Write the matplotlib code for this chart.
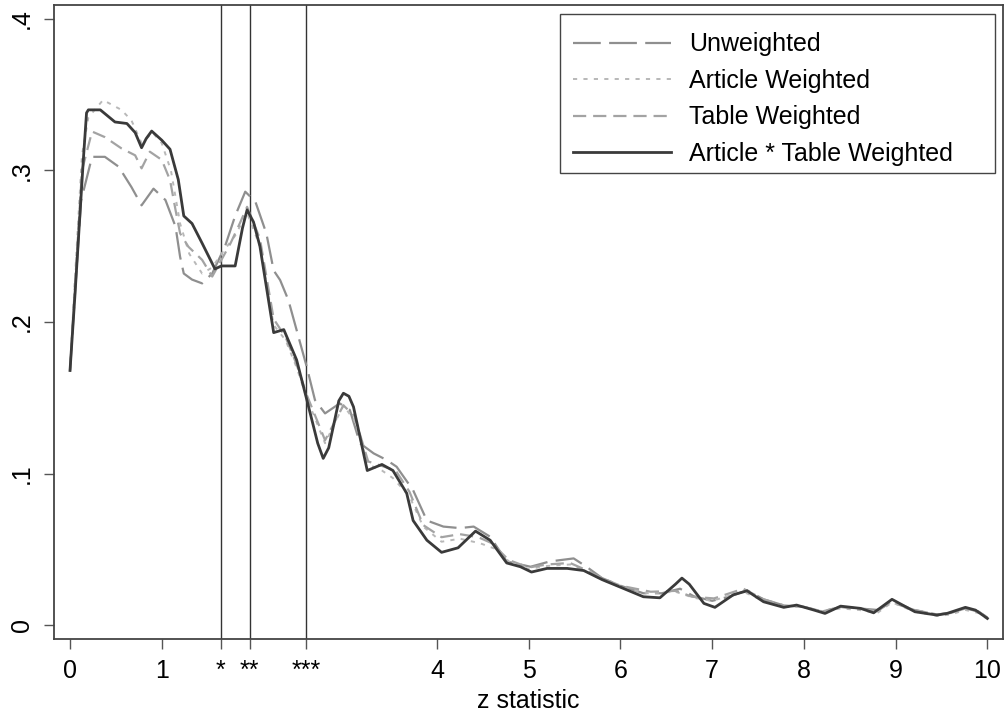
import numpy as np
from matplotlib import pyplot as plt
from matplotlib.patches import Rectangle

plt.rcParams['font.family'] = ['Liberation Sans', 'DejaVu Sans']
plt.rcParams['lines.scale_dashes'] = False

# z statistic density curves
x_unw = [0, 0.05, 0.12, 0.24, 0.38, 0.53, 0.67, 0.78, 0.91, 1.04, 1.15, 1.2, 1.24, 1.33, 1.44, 1.55, 1.69, 1.8, 1.91,
         2.02, 2.14, 2.22, 2.29, 2.38, 2.47, 2.58, 2.67, 2.78, 2.94, 3.05, 3.16, 3.31, 3.45, 3.56, 3.74, 3.89, 4.07,
         4.25, 4.40, 4.58, 4.76, 5.02, 5.23, 5.49, 5.63, 5.8, 6.0, 6.25, 6.45, 6.65, 6.8, 7.0, 7.2, 7.38, 7.56, 7.78,
         8.0, 8.2, 8.4, 8.6, 8.8, 8.96, 9.2, 9.45, 9.6, 9.76, 9.9, 10.0]
y_unw = [0.168, 0.215, 0.28, 0.309, 0.309, 0.3025, 0.289, 0.277, 0.288, 0.2805, 0.263, 0.243, 0.232, 0.228, 0.2255,
         0.232, 0.25, 0.27, 0.286, 0.2795, 0.2585, 0.234, 0.2277, 0.2145, 0.1947, 0.1705, 0.1485, 0.1397, 0.1463, 0.142,
         0.12, 0.1133, 0.109, 0.1045, 0.089, 0.069, 0.065, 0.064, 0.065, 0.0583, 0.042, 0.0385, 0.042, 0.044, 0.0385,
         0.031, 0.026, 0.021, 0.021, 0.024, 0.019, 0.016, 0.019, 0.023, 0.017, 0.013, 0.012, 0.009, 0.012, 0.011, 0.010,
         0.015, 0.010, 0.007, 0.008, 0.011, 0.009, 0.005]

x_art = [0, 0.05, 0.13, 0.2, 0.36, 0.56, 0.67, 0.78, 0.9, 1.0, 1.1, 1.2, 1.3, 1.44, 1.55, 1.65, 1.8, 1.93, 2.07, 2.22,
         2.35, 2.47, 2.58, 2.78, 2.98, 3.1, 3.25, 3.4, 3.52, 3.7, 3.85, 4.05, 4.25, 4.47, 4.65, 4.8, 5.0, 5.2, 5.45,
         5.6, 5.8, 6.0, 6.3, 6.6, 6.8, 7.0, 7.34, 7.56, 7.78, 8.0, 8.2, 8.4, 8.6, 8.8, 8.96, 9.2, 9.45, 9.6, 9.76, 9.9,
         10.0]
y_art = [0.168, 0.225, 0.31, 0.335, 0.3465, 0.340, 0.333, 0.318, 0.325, 0.318, 0.30, 0.265, 0.245, 0.232, 0.236, 0.245,
         0.257, 0.272, 0.25, 0.198, 0.188, 0.17, 0.15, 0.12, 0.145, 0.135, 0.106, 0.102, 0.097, 0.085, 0.065, 0.055,
         0.057, 0.054, 0.05, 0.041, 0.037, 0.039, 0.040, 0.036, 0.030, 0.025, 0.021, 0.022, 0.018, 0.016, 0.022, 0.016,
         0.012, 0.012, 0.009, 0.011, 0.010, 0.008, 0.015, 0.009, 0.006, 0.007, 0.010, 0.008, 0.004]

x_tab = [0, 0.05, 0.13, 0.24, 0.38, 0.56, 0.71, 0.78, 0.87, 1.0, 1.09, 1.15, 1.2, 1.29, 1.44, 1.55, 1.65, 1.75, 1.85,
         1.93, 2.07, 2.22, 2.35, 2.47, 2.58, 2.78, 2.98, 3.1, 3.25, 3.4, 3.55, 3.7, 3.85, 4.05, 4.25, 4.45, 4.6, 4.78,
         5.0, 5.2, 5.45, 5.6, 5.8, 6.0, 6.33, 6.61, 6.78, 7.02, 7.34, 7.56, 7.78, 8.0, 8.2, 8.4, 8.6, 8.8, 8.96, 9.2,
         9.45, 9.6, 9.76, 9.9, 10.0]
y_tab = [0.168, 0.22, 0.30, 0.3257, 0.322, 0.3146, 0.310, 0.3014, 0.3124, 0.307, 0.2937, 0.274, 0.2585, 0.2497, 0.241,
         0.23, 0.241, 0.252, 0.265, 0.276, 0.255, 0.202, 0.19, 0.172, 0.152, 0.122, 0.145, 0.138, 0.108, 0.105, 0.102,
         0.088, 0.066, 0.058, 0.060, 0.058, 0.054, 0.043, 0.038, 0.040, 0.041, 0.037, 0.031, 0.026, 0.022, 0.0226,
         0.0187, 0.0176, 0.024, 0.017, 0.013, 0.012, 0.009, 0.012, 0.011, 0.009, 0.016, 0.010, 0.007, 0.008, 0.011,
         0.009, 0.005]

x_at = [0, 0.055, 0.145, 0.18, 0.2, 0.33, 0.49, 0.62, 0.71, 0.78, 0.83, 0.89, 1.0, 1.09, 1.18, 1.24, 1.33, 1.44, 1.58,
        1.65, 1.8, 1.88, 1.93, 2.0, 2.07, 2.22, 2.33, 2.47, 2.58, 2.7, 2.76, 2.82, 2.87, 2.93, 2.98, 3.04, 3.09, 3.24,
        3.40, 3.52, 3.67, 3.74, 3.89, 4.05, 4.23, 4.42, 4.58, 4.76, 4.91, 5.03, 5.2, 5.42, 5.6, 5.8, 6.0, 6.25, 6.43,
        6.6, 6.67, 6.75, 6.91, 7.03, 7.23, 7.38, 7.56, 7.78, 7.92, 8.11, 8.23, 8.4, 8.62, 8.76, 8.96, 9.21, 9.45, 9.56,
        9.76, 9.87, 10.0]
y_at = [0.168, 0.219, 0.307, 0.338, 0.340, 0.340, 0.332, 0.331, 0.325, 0.315, 0.321, 0.326, 0.320, 0.314, 0.294, 0.270,
        0.265, 0.252, 0.235, 0.237, 0.237, 0.262, 0.274, 0.266, 0.250, 0.193, 0.195, 0.175, 0.149, 0.120, 0.110, 0.117,
        0.131, 0.148, 0.153, 0.151, 0.144, 0.102, 0.106, 0.102, 0.087, 0.069, 0.056, 0.048, 0.051, 0.062, 0.056, 0.041,
        0.0385, 0.035, 0.0374, 0.0374, 0.036, 0.030, 0.025, 0.0187, 0.018, 0.027, 0.031, 0.027, 0.0143, 0.0117, 0.020,
        0.0226, 0.0154, 0.0117, 0.0132, 0.0099, 0.0077, 0.0125, 0.011, 0.0081, 0.017, 0.0088, 0.0066, 0.0077, 0.0117,
        0.0099, 0.0044]

crit = [1.645, 1.96, 2.576]
xticks = [0, 1] + crit + [4, 5, 6, 7, 8, 9, 10]
xlabels = ['0', '1', '*', '**', '***', '4', '5', '6', '7', '8', '9', '10']
yticks = [0, 0.1, 0.2, 0.3, 0.4]
ylabels = ['0', '.1', '.2', '.3', '.4']

fig = plt.figure(figsize=(10.05, 7.14), dpi=100)
ax = fig.add_axes([0.0537, 0.105, 0.9443, 0.888])

ax.plot(x_unw, y_unw, color='#8f8f8f', lw=1.6, dashes=(20, 6), label='Unweighted')
ax.plot(x_art, y_art, color='#b8b8b8', lw=1.4, dashes=(3, 4.5), label='Article Weighted')
ax.plot(x_tab, y_tab, color='#a3a3a3', lw=1.6, dashes=(9.5, 5), label='Table Weighted')
ax.plot(x_at, y_at, color='#3a3a3a', lw=2.0, label='Article * Table Weighted', zorder=5)

for c in crit:
    ax.axvline(c, color='#333333', lw=1.0, zorder=1)

ax.set_xlim(-0.175, 10.17)
ax.set_ylim(-0.0092, 0.4092)
ax.set_xticks(xticks)
ax.set_xticklabels(xlabels)
ax.set_yticks(yticks)
ax.set_yticklabels(ylabels, rotation=90, va='center')
ax.tick_params(axis='both', length=7.5, width=1.0, color='#555555', labelsize=18)
ax.tick_params(axis='x', pad=7)
ax.tick_params(axis='y', pad=7)
ax.set_xlabel('z statistic', fontsize=18, labelpad=4)

for s in ax.spines.values():
    s.set_color('#444444')
    s.set_linewidth(1.3)

# legend box drawn separately so its padding matches the original
ax.add_patch(Rectangle((0.5332, 0.735), 0.4584, 0.2508, transform=ax.transAxes, facecolor='white',
                       edgecolor='#444444', lw=1.0, zorder=6))
leg = ax.legend(loc='upper left', bbox_to_anchor=(0.547, 0.957), borderaxespad=0, borderpad=0, fontsize=18,
                handlelength=3.9, handletextpad=0.75, labelspacing=0.5, frameon=False)
leg.set_zorder(7)

plt.savefig('out.png', dpi=100)
